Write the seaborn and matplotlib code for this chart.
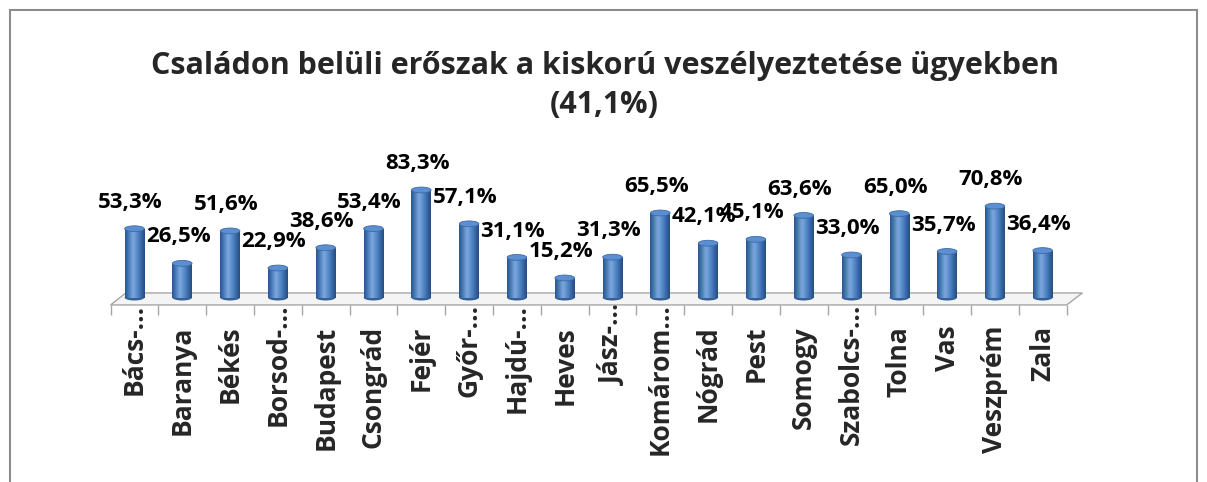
import numpy as np
import matplotlib
matplotlib.use("Agg")
import matplotlib.pyplot as plt
import seaborn as sns
from matplotlib.colors import LinearSegmentedColormap
from matplotlib.patches import Ellipse, Polygon, Rectangle

# Data
counties = ["Bács-…", "Baranya", "Békés", "Borsod-…", "Budapest", "Csongrád",
            "Fejér", "Győr-…", "Hajdú-…", "Heves", "Jász-…", "Komárom…",
            "Nógrád", "Pest", "Somogy", "Szabolcs-…", "Tolna", "Vas",
            "Veszprém", "Zala"]
shares = [53.3, 26.5, 51.6, 22.9, 38.6, 53.4, 83.3, 57.1, 31.1, 15.2,
          31.3, 65.5, 42.1, 45.1, 63.6, 33.0, 65.0, 35.7, 70.8, 36.4]
title = "Családon belüli erőszak a kiskorú veszélyeztetése ügyekben\n(41,1%)"

sns.set_theme(style="white")
plt.rcParams["font.family"] = ["Open Sans", "DejaVu Sans"]

fig = plt.figure(figsize=(12.07, 4.82), dpi=100)
ax = fig.add_axes([0.0916, 0.3826, 0.7921, 0.268])

sns.barplot(x=counties, y=shares, color="#4a7ebb", width=0.41, ax=ax,
            edgecolor="none", zorder=2)

# cylinder look: horizontal gradient inside every bar + elliptical caps
cyl = LinearSegmentedColormap.from_list(
    "cyl", ["#2a548a", "#4a7ebb", "#7ea8de", "#5a8dcc", "#3b6ca9", "#264c7e"])
grad = np.linspace(0, 1, 64).reshape(1, -1)
bars = list(ax.patches)
cap = 4.5
for p in bars:
    x0, w, h = p.get_x(), p.get_width(), p.get_height()
    im = ax.imshow(grad, cmap=cyl, aspect="auto", extent=(x0, x0 + w, 0, h),
                   zorder=3, interpolation="bicubic")
    im.set_clip_path(p)
    ax.add_patch(Ellipse((x0 + w / 2, 0), w, cap, facecolor="#345f97",
                         edgecolor="none", zorder=2.5, clip_on=False))
    ax.add_patch(Ellipse((x0 + w / 2, h), w, cap, facecolor="#5b8fd1",
                         edgecolor="#3d6ba6", lw=0.6, zorder=4))

# data labels
for i, v in enumerate(shares):
    ax.annotate(f"{v:.1f}%".replace(".", ","), (i, v), xytext=(-3, 19),
                textcoords="offset points", ha="center", va="center",
                fontsize=16, fontweight="bold", color="black",
                annotation_clip=False, zorder=6)

ax.set_xlim(-0.5, 19.5)
ax.set_ylim(0, 100)

# 3D floor
floor = Polygon([(-0.5, -5.7), (-0.18, 3.6), (19.83, 3.6), (19.5, -5.7)],
                closed=True, facecolor="#f4f4f4", edgecolor="#a6a6a6",
                lw=1.0, zorder=1, clip_on=False)
ax.add_patch(floor)

for s in ["top", "right", "left"]:
    ax.spines[s].set_visible(False)
ax.spines["bottom"].set_position(("outward", 5.3))
ax.spines["bottom"].set_visible(False)
ax.set_yticks([])
ax.set_ylabel("")

ax.set_xticks(np.arange(-0.5, 20, 1), minor=True)
ax.tick_params(axis="x", which="minor", length=7.5, width=1.0, color="#a6a6a6",
               direction="out", bottom=True)
ax.tick_params(axis="x", which="major", length=0)
ax.set_xticklabels(counties, rotation=90, fontsize=19, fontweight="bold",
                   va="top", ha="center")
for tick, name in zip(ax.xaxis.get_major_ticks(), counties):
    tick.set_pad(-1 if name.endswith("…") else 15)

fig.text(0.501, 0.823, title, ha="center", va="center", fontsize=22,
         fontweight="bold", linespacing=1.4)

fig.patches.append(Rectangle((10 / 1207, -0.02), 1187 / 1207, 0.999,
                             transform=fig.transFigure, fill=False,
                             edgecolor="#8c8c8c", lw=1.5))

fig.savefig("out.png", dpi=100)
